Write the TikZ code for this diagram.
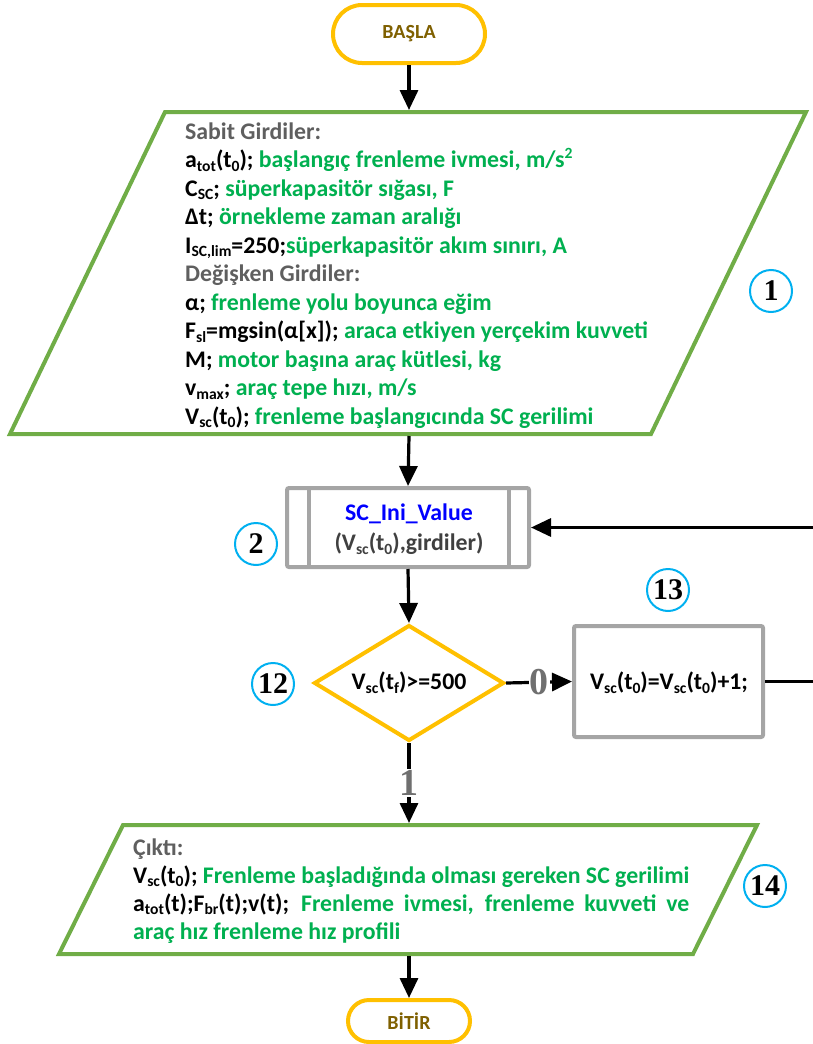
\documentclass[tikz,border=0pt]{standalone}
\usepackage{fontspec}
\setmainfont{Carlito}
\newfontfamily\numfont{Liberation Serif}
\usetikzlibrary{shapes.geometric,shapes.misc,arrows.meta}

\definecolor{termyellow}{HTML}{FFC000}
\definecolor{termtext}{HTML}{7F6000}
\definecolor{iogreen}{HTML}{70AD47}
\definecolor{txtgreen}{HTML}{00B050}
\definecolor{boxgray}{HTML}{A5A5A5}
\definecolor{headgray}{HTML}{5F5F5F}
\definecolor{subblue}{HTML}{0000FF}
\definecolor{arggray}{HTML}{404040}
\definecolor{tagcyan}{HTML}{00B0F0}
\definecolor{branchgray}{HTML}{6F6F6F}

% lowered / raised small text in the Calibri-like style
\newcommand\sbs[1]{\raisebox{-3.8pt}{\fontsize{15.6}{15.6}\selectfont #1}}
\newcommand\sps[1]{\raisebox{8.8pt}{\fontsize{15.6}{15.6}\selectfont #1}}
\newcommand\gr[1]{\textcolor{txtgreen}{#1}}
\newlength\outw

\begin{document}
\begin{tikzpicture}[x=1pt,y=-1pt,
  txt/.style={inner sep=0pt, font=\fontsize{23.8}{28.5}\selectfont\bfseries},
  term/.style={rounded rectangle, draw=termyellow, line width=4pt, fill=white,
    inner sep=0pt, text=termtext, font=\fontsize{20}{24}\selectfont\bfseries},
  iobox/.style={draw=iogreen, line width=4pt, fill=white},
  proc/.style={rectangle, draw=boxgray, line width=4pt, fill=white,
    rounded corners=2pt, inner sep=0pt},
  decision/.style={diamond, draw=termyellow, line width=4pt, fill=white, inner sep=0pt},
  tag/.style={circle, draw=tagcyan, line width=2pt, minimum size=42pt, inner sep=0pt,
    font=\numfont\bfseries\fontsize{30}{30}\selectfont},
  flow/.style={draw=black, line width=3.2pt, -{Triangle[length=20pt,width=18pt]}},
  branch/.style={fill=white, inner sep=1pt, text=branchgray,
    font=\numfont\bfseries\fontsize{38}{38}\selectfont}
]
\useasboundingbox (0,0) rectangle (813,1044);

% terminators
\node[term, minimum width=152pt, minimum height=58pt] (start) at (409,34) {BAŞLA};
\node[term, minimum width=122pt, minimum height=42pt] (stop) at (409,1021) {BİTİR};

% input block (parallelogram) and its connection points
\draw[iobox] (165,112) -- (806,112) -- (651,434) -- (10,434) -- cycle;
\coordinate (inp-n) at (409,110);
\coordinate (inp-s) at (409,436);
\node[txt, anchor=base west] (intxt) at (185,139) {\parbox[t]{600pt}{\raggedright
  \textcolor{headgray}{Sabit Girdiler:}\\
  a\sbs{tot}(t\sbs{0}); \gr{başlangıç frenleme ivmesi, m/s\sps{2}}\\
  C\sbs{SC}; \gr{süperkapasitör sığası, F}\\
  Δt; \gr{örnekleme zaman aralığı}\\
  I\sbs{SC,lim}=250;\gr{süperkapasitör akım sınırı, A}\\
  \textcolor{headgray}{Değişken Girdiler:}\\
  α; \gr{frenleme yolu boyunca eğim}\\
  F\sbs{sl}=mgsin(α[x]); \gr{araca etkiyen yerçekim kuvveti}\\
  M; \gr{motor başına araç kütlesi, kg}\\
  v\sbs{max}; \gr{araç tepe hızı, m/s}\\
  V\sbs{sc}(t\sbs{0}); \gr{frenleme başlangıcında SC gerilimi}}};

% predefined process
\node[proc, minimum width=242pt, minimum height=79pt] (sub) at (408,527.5) {};
\draw[boxgray, line width=4pt] ([xshift=24pt]sub.north west) -- ([xshift=24pt]sub.south west);
\draw[boxgray, line width=4pt] ([xshift=-22pt]sub.north east) -- ([xshift=-22pt]sub.south east);
\node[txt, align=center, font=\fontsize{23.8}{30}\selectfont\bfseries] (subtxt) at (409,529)
  {\textcolor{subblue}{SC\_Ini\_Value}\\\textcolor{arggray}{(V\sbs{sc}(t\sbs{0}),girdiler)}};

% decision
\node[decision, minimum width=190pt, minimum height=116pt] (dec) at (409,683) {};
\node[txt] (dectxt) at (409,683) {V\sbs{sc}(t\sbs{f})>=500};

% increment
\node[proc, minimum width=189pt, minimum height=111pt] (inc) at (668.5,681.5) {};
\node[txt] (inctxt) at (669,683) {V\sbs{sc}(t\sbs{0})=V\sbs{sc}(t\sbs{0})+1;};

% output block (parallelogram) and its connection points
\draw[iobox] (123,825) -- (757,825) -- (693,954) -- (59,954) -- cycle;
\coordinate (out-n) at (409,823);
\coordinate (out-s) at (409,956);
\node[txt, anchor=base west, font=\fontsize{23.8}{28}\selectfont\bfseries] (outtxt) at (133,855)
  {\parbox[t]{600pt}{\raggedright
  \settowidth\outw{V\sbs{sc}(t\sbs{0}); Frenleme başladığında olması gereken SC gerilimi}%
  \textcolor{headgray}{Çıktı:}\\
  V\sbs{sc}(t\sbs{0}); \gr{Frenleme başladığında olması gereken SC gerilimi}\\
  \makebox[\outw][s]{a\sbs{tot}(t);F\sbs{br}(t);v(t); \gr{Frenleme ivmesi, frenleme kuvveti ve}}\\
  \gr{araç hız frenleme hız profili}}};

% step numbers
\node[tag] (t1) at (771,291) {1};
\node[tag] (t2) at (256,544) {2};
\node[tag] (t12) at (273,684) {12};
\node[tag] (t13) at (668,590) {13};
\node[tag] (t14) at (765,886) {14};

% connectors
\draw[flow] (start.south) -- (inp-n);
\draw[flow] (inp-s) -- (sub.north);
\draw[flow] (sub.south) -- (dec.north);
\draw[flow] (dec.east) -- node[branch] (b0) {0} (inc.west);
\draw[flow] (dec.south) -- node[branch] (b1) {1} (out-n);
\draw[flow] (inc.east) -- ++(70,0) |- (sub.east);
\draw[flow] (out-s) -- (stop.north);
\end{tikzpicture}
\end{document}
